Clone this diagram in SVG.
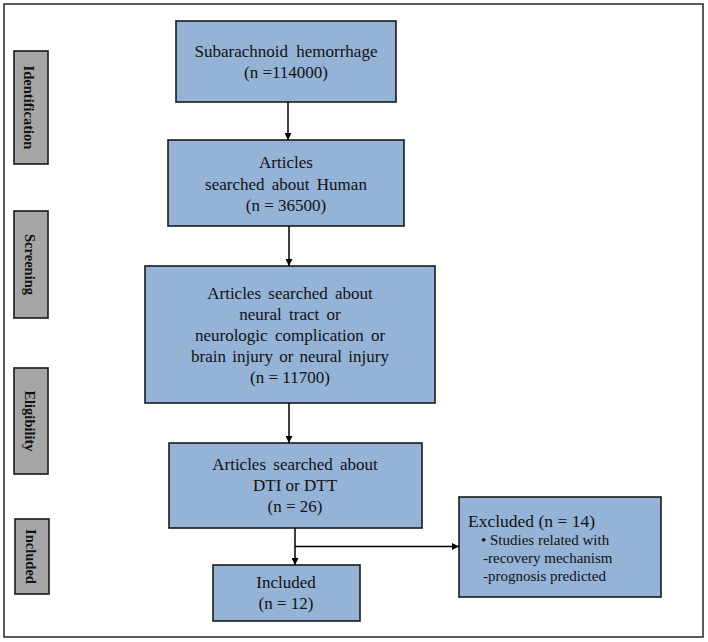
<svg xmlns="http://www.w3.org/2000/svg" width="708" height="642" viewBox="0 0 708 642">
<defs>
<style>
.frame{fill:#fff;stroke:#262626;stroke-width:1.5}
.box{fill:#95b3d7;stroke:#1a1a1a;stroke-width:1.6}
.side{fill:#a6a6a6;stroke:#1a1a1a;stroke-width:1.6}
.t{font-size:17px;fill:#111;text-anchor:middle}
.ex{fill:#111}
.lab{font-size:14.5px;font-weight:bold;fill:#111;text-anchor:middle}
.conn{stroke:#000;stroke-width:1.5;fill:none}
</style>
<marker id="arr" viewBox="0 0 10 10" refX="10" refY="5" markerWidth="7" markerHeight="7" markerUnits="userSpaceOnUse" orient="auto">
<path d="M0,0 L10,5 L0,10 Z" fill="#000"/>
</marker>
</defs>
<rect class="frame" x="4" y="4" width="699" height="633"/>
<g font-family="Liberation Serif, Times New Roman, DejaVu Serif, serif">
<g id="stage-identification">
<rect class="side" x="14" y="51" width="34" height="113"/>
<text class="lab" transform="translate(24,107.5) rotate(90)">Identification</text>
</g>
<g id="stage-screening">
<rect class="side" x="14" y="211" width="34" height="107"/>
<text class="lab" transform="translate(25,264.5) rotate(90)">Screening</text>
</g>
<g id="stage-eligibility">
<rect class="side" x="14" y="368" width="34" height="106"/>
<text class="lab" transform="translate(25,421) rotate(90)">Eligibility</text>
</g>
<g id="stage-included">
<rect class="side" x="15" y="519" width="34" height="75"/>
<text class="lab" transform="translate(26,556.5) rotate(90)">Included</text>
</g>

<g id="n1">
<rect class="box" x="176" y="21" width="220" height="81"/>
<text class="t" x="286" y="57" word-spacing="4">Subarachnoid hemorrhage</text>
<text class="t" x="286" y="78">(n =114000)</text>
</g>
<g id="n2">
<rect class="box" x="168" y="140" width="236" height="86"/>
<text class="t" x="286" y="168">Articles</text>
<text class="t" x="286" y="190" word-spacing="3">searched about Human</text>
<text class="t" x="286" y="211">(n = 36500)</text>
</g>
<g id="n3">
<rect class="box" x="145" y="266" width="290" height="137"/>
<text class="t" x="290" y="299" word-spacing="3">Articles searched about</text>
<text class="t" x="290" y="320" word-spacing="3">neural tract or</text>
<text class="t" x="290" y="341" word-spacing="3">neurologic complication or</text>
<text class="t" x="290" y="362" word-spacing="2">brain injury or neural injury</text>
<text class="t" x="290" y="383">(n = 11700)</text>
</g>
<g id="n4">
<rect class="box" x="169" y="443" width="253" height="85"/>
<text class="t" x="295" y="470" word-spacing="3">Articles searched about</text>
<text class="t" x="295" y="491">DTI or DTT</text>
<text class="t" x="295" y="512">(n = 26)</text>
</g>
<g id="n5">
<rect class="box" x="213" y="565" width="147" height="56"/>
<text class="t" x="286" y="588">Included</text>
<text class="t" x="286" y="609">(n = 12)</text>
</g>
<g id="n6">
<rect class="box" x="459" y="497" width="202" height="100"/>
<text class="ex" x="468" y="527" font-size="17.5">Excluded (n = 14)</text>
<text class="ex" x="481" y="545" font-size="15">• Studies related with</text>
<text class="ex" x="483" y="563" font-size="15">-recovery mechanism</text>
<text class="ex" x="483" y="581" font-size="15">-prognosis predicted</text>
</g>
</g>
<g id="connectors">
<line class="conn" x1="288" y1="102" x2="288" y2="140" marker-end="url(#arr)"/>
<line class="conn" x1="289" y1="226" x2="289" y2="266" marker-end="url(#arr)"/>
<line class="conn" x1="289" y1="403" x2="289" y2="443" marker-end="url(#arr)"/>
<line class="conn" x1="295" y1="528" x2="295" y2="565" marker-end="url(#arr)"/>
<line class="conn" x1="295" y1="546.5" x2="459" y2="546.5" marker-end="url(#arr)"/>
</g>
</svg>
